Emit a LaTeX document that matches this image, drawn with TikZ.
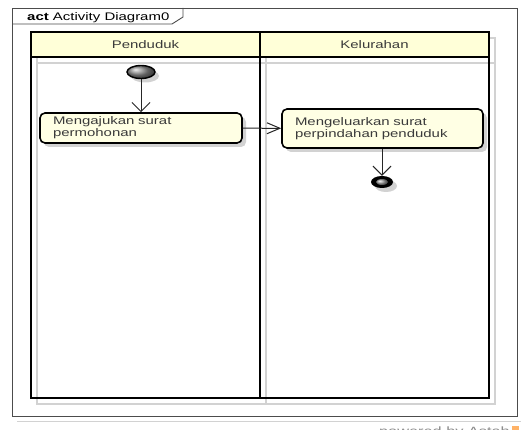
\documentclass[tikz,border=0pt]{standalone}
\usepackage{fontspec}
\setmainfont{Liberation Sans}[FakeStretch=1.36]
\usetikzlibrary{arrows.meta,shapes.geometric}
\definecolor{laneyellow}{HTML}{FFFFD8}
\definecolor{actyellow}{HTML}{FFFFE4}
\definecolor{shadowgray}{HTML}{D2D2D2}
\definecolor{textgray}{HTML}{3A3A3A}
\begin{document}
\begin{tikzpicture}[x=1pt,y=-1pt,
  font=\fontsize{11}{12}\selectfont,
  frameline/.style={draw=black!70, line width=0.9pt},
  laneline/.style={draw=black, line width=1.8pt},
  shadowline/.style={draw=shadowgray, line width=1.6pt},
  lanehead/.style={text=textgray},
  action/.style={draw=black, line width=1.6pt, rounded corners=5pt,
    fill=actyellow, align=left, inner xsep=13pt, text=textgray},
  flowv/.style={draw=black!85, line width=1pt,
    -{Straight Barb[length=9pt,width=18pt,line width=1pt]}},
  flowh/.style={draw=black!85, line width=1pt,
    -{Straight Barb[length=13pt,width=11pt,line width=1pt]}},
]
\useasboundingbox (0,0) rectangle (521,430);

% outer frame with its shadow
\draw[shadowline, line width=1pt] (17,421) -- (522,421);
\draw[shadowline, line width=1pt] (522,13) -- (522,421);
\draw[frameline, fill=white] (12,8) rectangle (517,416);

% title tab
\draw[frameline] (12,24) -- (172,24) -- (183,17) -- (183,8);
\node[anchor=base west, inner sep=0pt, text=black] (title) at (27,21)
  {\textbf{act} Activity Diagram0};

% swimlane shadows
\draw[shadowline] (37,38) rectangle (266,404);
\draw[shadowline] (266,38) rectangle (495,404);
\draw[shadowline] (37,63) -- (495,63);

% swimlanes
\fill[laneyellow] (31,32) rectangle (489,57);
\draw[laneline] (31,32) rectangle (489,398);
\draw[laneline] (260,32) -- (260,398);
\draw[laneline] (31,57) -- (489,57);
\node[lanehead] (laneA) at (145.5,45) {Penduduk};
\node[lanehead] (laneB) at (374.5,45) {Kelurahan};

% initial node
\fill[shadowgray] (145,76) ellipse [x radius=14, y radius=6.5];
\node[ellipse, draw=black, line width=1.4pt, minimum width=28pt,
  minimum height=13pt, inner sep=0pt,
  ball color=black!45, shading=ball] (start) at (141,72) {};

% actions
\fill[shadowgray, rounded corners=5pt] (44,117) rectangle (246,147);
\node[action, minimum width=202pt, minimum height=30pt, text width=176pt]
  (a1) at (141,128) {Mengajukan surat\\permohonan};
\fill[shadowgray, rounded corners=5pt] (286,113) rectangle (487,152);
\node[action, minimum width=201pt, minimum height=39pt, text width=175pt]
  (a2) at (382.5,128.5) {Mengeluarkan surat\\perpindahan penduduk};

% final node
\fill[shadowgray] (386,186) ellipse [x radius=11, y radius=6];
\node[ellipse, fill=black, minimum width=22pt, minimum height=12pt,
  inner sep=0pt] (final) at (382,182) {};
\node[ellipse, minimum width=12pt, minimum height=6pt, inner sep=0pt,
  ball color=black!35, shading=ball] (finalcore) at (final.center) {};

% control flows
\draw[flowv] (start) -- (a1);
\draw[flowh] (a1) -- (a2);
\draw[flowv] (a2.south -| final) -- (final.north);

% footer
\node[anchor=base east, inner sep=0pt, text=black!45,
  font=\fontsize{12}{12}\selectfont] (footer) at (510,435)
  {powered by Astah};
\fill[orange!60] (512,426) rectangle (519,433);
\end{tikzpicture}
\end{document}
